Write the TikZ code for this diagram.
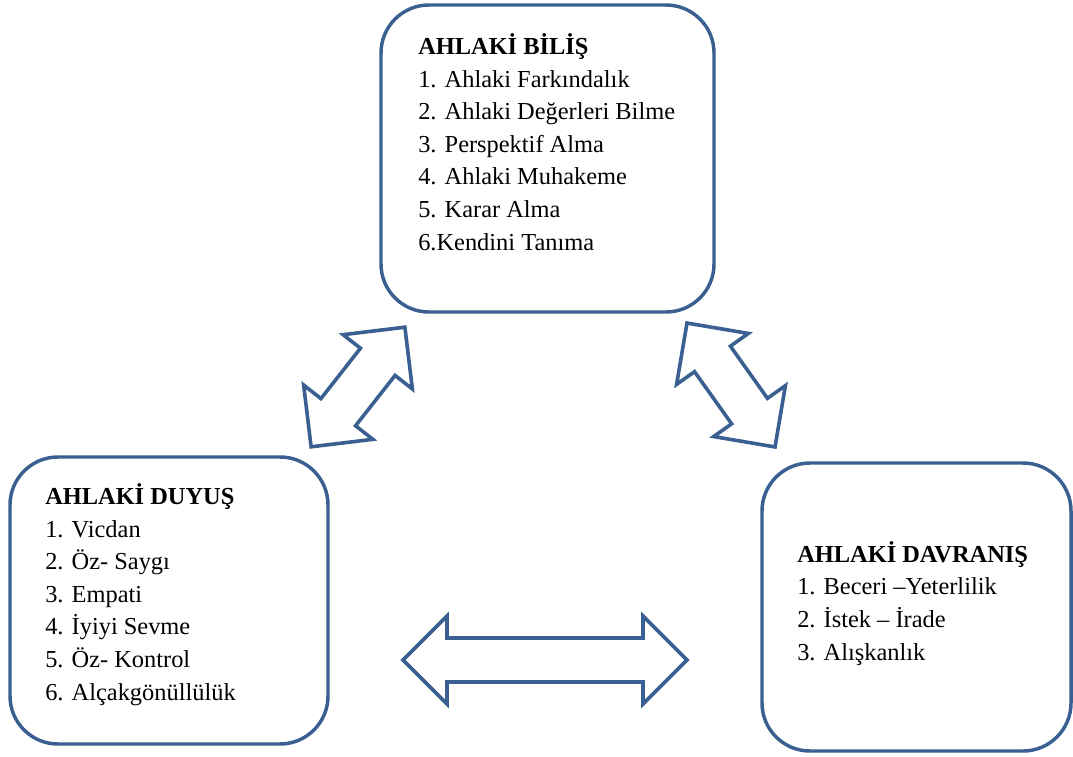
\documentclass[tikz,border=0pt]{standalone}
\usepackage{fontspec}
\setmainfont{Liberation Serif}
\definecolor{frame}{RGB}{58,96,145}
\newcommand\blockarr[3]{%
  \begin{scope}[shift={(#1)}, rotate=#2]
    \draw[blockarrow] ({-#3/2},0) -- ({-#3/2+44},-44) -- ({-#3/2+44},-22) -- ({#3/2-44},-22) -- ({#3/2-44},-44) -- ({#3/2},0) -- ({#3/2-44},44) -- ({#3/2-44},22) -- ({-#3/2+44},22) -- ({-#3/2+44},44) -- cycle;
  \end{scope}}
\begin{document}
\begin{tikzpicture}[x=0.75pt,y=-0.75pt,
  box/.style={draw=frame, line width=2.6pt, rounded corners=36pt, inner sep=0pt},
  txt/.style={anchor=base west, align=left, inner sep=0pt, font=\fontsize{18.3pt}{24.4pt}\selectfont},
  blockarrow/.style={draw=frame, line width=2.7pt, line join=miter}]
\useasboundingbox (0,0) rectangle (1073,756);
% boxes
\node[box, minimum width=249.75pt, minimum height=230.25pt] (bilis) at (547.5,158.5) {};
\node[box, minimum width=238.5pt, minimum height=215.25pt] (duyus) at (169,600.5) {};
\node[box, minimum width=231.75pt, minimum height=216pt] (davranis) at (916.5,607) {};
% texts (anchored at the baseline of the last line)
\node[txt] (tbilis) at (418,250) {\textbf{AHLAKİ BİLİŞ}\\1. Ahlaki Farkındalık\\2. Ahlaki Değerleri Bilme\\3. Perspektif Alma\\4. Ahlaki Muhakeme\\5. Karar Alma\\6.Kendini Tanıma};
\node[txt] (tduyus) at (45,700) {\textbf{AHLAKİ DUYUŞ}\\1. Vicdan\\2. Öz- Saygı\\3. Empati\\4. İyiyi Sevme\\5. Öz- Kontrol\\6. Alçakgönüllülük};
\node[txt] (tdavranis) at (797,660) {\textbf{AHLAKİ DAVRANIŞ}\\1. Beceri –Yeterlilik\\2. İstek – İrade\\3. Alışkanlık};
% arrows
\blockarr{358,387}{51.9}{152}
\blockarr{731,385}{-54.6}{152}
\blockarr{545,660}{0}{284}
\end{tikzpicture}
\end{document}
